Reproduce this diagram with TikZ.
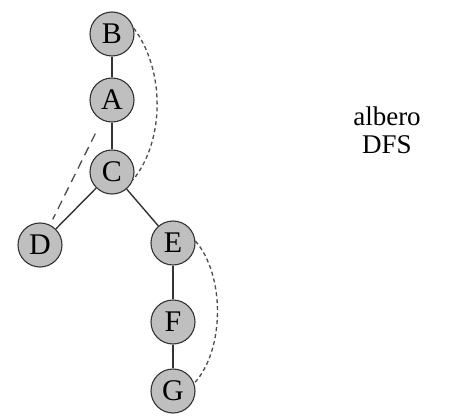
\documentclass[tikz,border=0pt]{standalone}
\usepackage{fontspec}
\setmainfont{Liberation Serif}
\begin{document}
\begin{tikzpicture}[x=1pt,y=-1pt,
  vtx/.style={circle,draw=black!80,fill=black!25,line width=1.1pt,minimum size=44pt,inner sep=0pt,font=\fontsize{30}{30}\selectfont},
  edge/.style={draw=black!80,line width=1.4pt},
  backfine/.style={draw=black!70,line width=1.3pt,dash pattern=on 4pt off 3pt},
  backlong/.style={draw=black!70,line width=1.3pt,dash pattern=on 9pt off 6pt}]
\useasboundingbox (0,0) rectangle (453,420);
\node[vtx] (B) at (112,34) {B};
\node[vtx] (A) at (112,100) {A};
\node[vtx] (C) at (112,172) {C};
\node[vtx] (D) at (40,245) {D};
\node[vtx] (E) at (173,243) {E};
\node[vtx] (F) at (173,322) {F};
\node[vtx] (G) at (173,391) {G};
\draw[edge] (B) -- (A);
\draw[edge] (A) -- (C);
\draw[edge] (C) -- (D);
\draw[edge] (C) -- (E);
\draw[edge] (E) -- (F);
\draw[edge] (F) -- (G);
\draw[backfine] (B.15) .. controls (165,70) and (165,140) .. (C.-20);
\draw[backfine] (E.5) .. controls (225,275) and (225,350) .. (G.20);
\draw[backlong, shorten <=15pt, shorten >=6pt] (A) -- (D);
\node[align=center,font=\fontsize{27}{28}\selectfont] (T) at (387,130) {albero\\DFS};
\end{tikzpicture}
\end{document}
